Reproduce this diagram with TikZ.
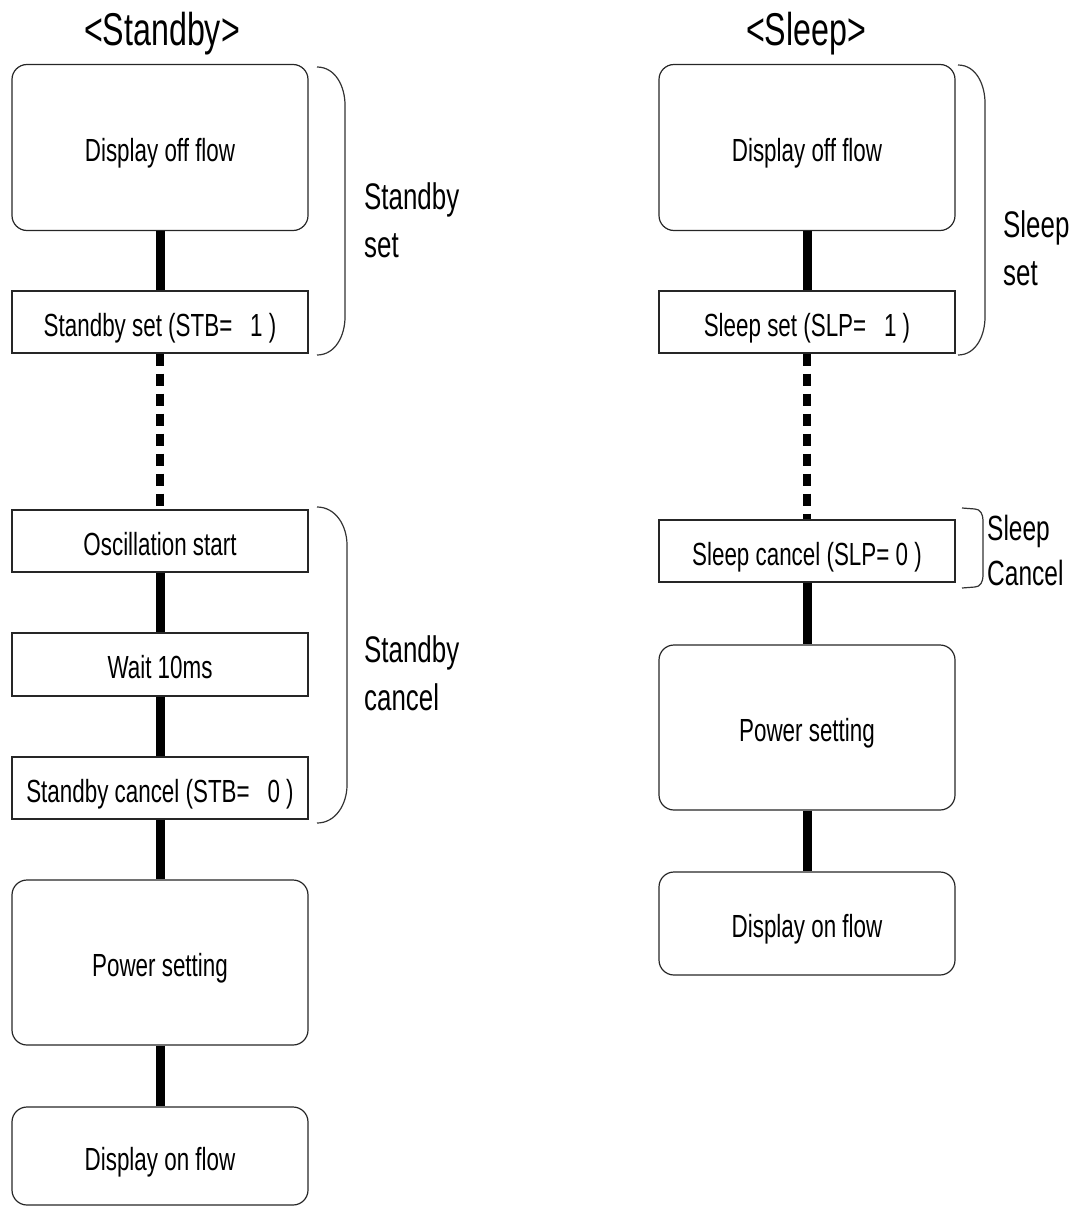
\documentclass[tikz,border=0pt]{standalone}
\usepackage{fontspec}
\setmainfont{Liberation Sans}[FakeStretch=0.7]
\tikzset{
  flowbox/.style={draw=black!85, line width=1.2pt, minimum width=296pt, inner sep=0pt, text height=33pt, text depth=5pt, font=\fontsize{32}{38}\selectfont},
  roundbox/.style={flowbox, rounded corners=15pt},
  link/.style={line width=9pt},
  dotlink/.style={line width=8pt, dash pattern=on 12pt off 8pt},
  bracket/.style={draw=black!80, line width=1.2pt},
  sidelabel/.style={anchor=west, align=left, inner sep=0pt, font=\fontsize{37}{48}\selectfont},
  heading/.style={font=\fontsize{46}{50}\selectfont, inner sep=0pt}
}
\begin{document}
\begin{tikzpicture}[x=1pt,y=-1pt]
  \useasboundingbox (0,0) rectangle (1080,1207);
  % standby column
  \node[heading] (stbhead) at (162,34) {<Standby>};
  \node[roundbox, minimum height=166pt] (stboff) at (160,147.5) {Display off flow};
  \node[flowbox, minimum height=62pt] (stbset) at (160,322) {Standby set (STB=\ \ \,1 )};
  \node[flowbox, minimum height=62pt] (oscstart) at (160,541) {Oscillation start};
  \node[flowbox, minimum height=63pt] (stbwait) at (160,664.5) {Wait 10ms};
  \node[flowbox, minimum height=62pt] (stbcancel) at (160,788) {Standby cancel (STB=\ \ \,0 )};
  \node[roundbox, minimum height=165pt] (stbpower) at (160,962.5) {Power setting};
  \node[roundbox, minimum height=98pt] (stbon) at (160,1156) {Display on flow};
  % sleep column
  \node[heading] (slphead) at (806,34) {<Sleep>};
  \node[roundbox, minimum height=166pt] (slpoff) at (807,147.5) {Display off flow};
  \node[flowbox, minimum height=62pt] (slpset) at (807,322) {Sleep set (SLP=\ \ \,1 )};
  \node[flowbox, minimum height=62pt] (slpcancel) at (807,551) {Sleep cancel (SLP= 0 )};
  \node[roundbox, minimum height=165pt] (slppower) at (807,727.5) {Power setting};
  \node[roundbox, minimum height=103pt] (slpon) at (807,923.5) {Display on flow};
  % connectors
  \begin{scope}[on background layer/.try]
    \draw[link] (stboff) -- (stbset);
    \draw[dotlink] (stbset.south) -- (oscstart.north);
    \draw[link] (oscstart) -- (stbwait);
    \draw[link] (stbwait) -- (stbcancel);
    \draw[link] (stbcancel) -- (stbpower);
    \draw[link] (stbpower) -- (stbon);
    \draw[link] (slpoff) -- (slpset);
    \draw[dotlink] (slpset.south) -- (slpcancel.north);
    \draw[link] (slpcancel) -- (slppower);
    \draw[link] (slppower) -- (slpon);
  \end{scope}
  % brackets
  \draw[bracket] (317,67) to[out=0,in=90] (345,105) -- (345,317) to[out=-90,in=0] (317,355);
  \draw[bracket] (317,507) to[out=0,in=90] (347,545) -- (347,785) to[out=-90,in=0] (317,823);
  \draw[bracket] (958,65) to[out=0,in=90] (985,103) -- (985,317) to[out=-90,in=0] (958,355);
  \draw[bracket] (962,508) -- (975,509) to[out=0,in=90] (983,520) -- (983,576) to[out=-90,in=0] (975,587) -- (962,588);
  \node[sidelabel] (stbsetlbl) at (364,220) {Standby\\set};
  \node[sidelabel] (stbcancellbl) at (364,673) {Standby\\cancel};
  \node[sidelabel] (slpsetlbl) at (1003,248) {Sleep\\set};
  \node[sidelabel, font=\fontsize{35}{45}\selectfont] (slpcancellbl) at (987,550) {Sleep\\Cancel};
\end{tikzpicture}
\end{document}
